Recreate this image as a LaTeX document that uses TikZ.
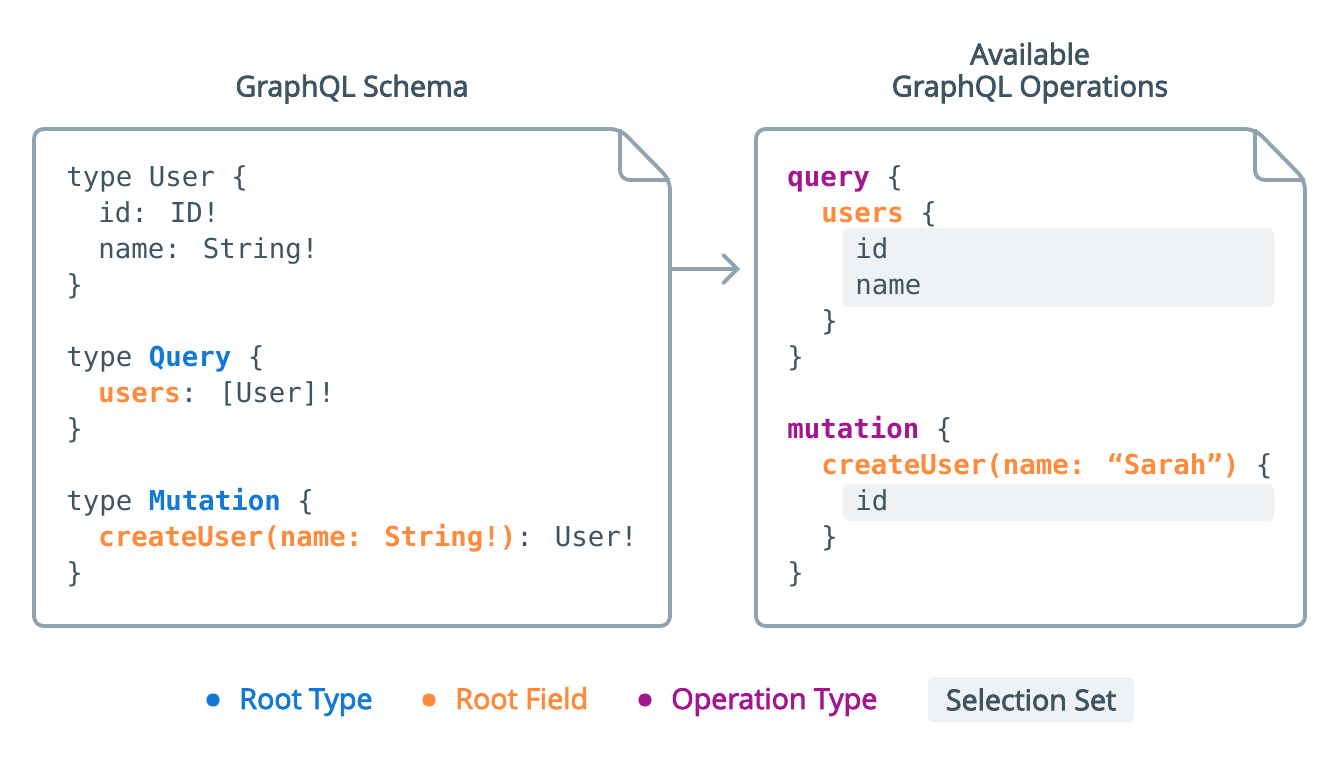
\documentclass[tikz,border=0pt]{standalone}
\usepackage{fontspec}
\setmainfont{Open Sans}
\newfontfamily\codefont{DejaVu Sans Mono}
\newfontfamily\labelfont{Open Sans}[FakeBold=3]
\usetikzlibrary{positioning}
\usetikzlibrary{arrows.meta}
\definecolor{docline}{HTML}{8FA4B0}
\definecolor{codetext}{HTML}{3E5463}
\definecolor{rootblue}{HTML}{1379D7}
\definecolor{rootorange}{HTML}{FF8A3B}
\definecolor{opviolet}{HTML}{A5158F}
\definecolor{selgray}{HTML}{EEF2F5}
\newcommand{\rtype}[1]{{\bfseries\color{rootblue}#1}}
\newcommand{\rfield}[1]{{\bfseries\color{rootorange}#1}}
\newcommand{\optype}[1]{{\bfseries\color{opviolet}#1}}
\tikzset{
        % Document outlines
        doc_outline/.style={draw=docline, line width=2.2pt, rounded corners=5.5pt, line join=round},
        % Lines of code
        code_line/.style={anchor=base west, inner sep=0pt, text=codetext, font=\codefont\fontsize{15.6}{19}\selectfont},
        % Selection sets
        sel_box/.style={fill=selgray, rounded corners=3.5pt},
        % Titles above the documents
        doc_title/.style={align=center, text=codetext, font=\labelfont\fontsize{16.3}{18.2}\selectfont},
        % Legend
        legend_dot/.style={circle, inner sep=0pt, minimum size=7.5pt},
        legend_text/.style={anchor=base west, inner sep=0pt, font=\labelfont\fontsize{16.3}{18}\selectfont}
}
\begin{document}
\begin{tikzpicture}[x=0.02cm, y=-0.02cm]
            \useasboundingbox (0,0) rectangle (1340,764);
            % titles
            \node[doc_title] (schema_title) at (352,89) {GraphQL Schema};
            \node[doc_title] (ops_title) at (1030,73) {Available\\GraphQL Operations};
            % schema document
            \draw[doc_outline] (620,129) -- (34,129) -- (34,626) -- (670,626) -- (670,180) -- cycle;
            \draw[doc_outline] (620,129) -- (620,180) -- (670,180);
            % operations document
            \draw[doc_outline] (1255,129) -- (756,129) -- (756,626) -- (1305,626) -- (1305,180) -- cycle;
            \draw[doc_outline] (1255,129) -- (1255,180) -- (1305,180);
            % selection sets
            \fill[sel_box] (843,228) rectangle (1274,307);
            \fill[sel_box] (843,484) rectangle (1274,521);
            % schema code
            \node[code_line] (s_user) at (66,186) {type User \{};
            \node[code_line] (s_id) at (98,222) {id: ID!};
            \node[code_line] (s_name) at (98,258) {name: String!};
            \node[code_line] (s_user_end) at (66,294) {\}};
            \node[code_line] (s_query) at (66,366) {type \rtype{Query} \{};
            \node[code_line] (s_users) at (98,402) {\rfield{users}: [User]!};
            \node[code_line] (s_query_end) at (66,438) {\}};
            \node[code_line] (s_mutation) at (66,510) {type \rtype{Mutation} \{};
            \node[code_line] (s_create) at (98,546) {\rfield{createUser(name: String!)}: User!};
            \node[code_line] (s_mutation_end) at (66,582) {\}};
            % operations code
            \node[code_line] (o_query) at (787,186) {\optype{query} \{};
            \node[code_line] (o_users) at (821,222) {\rfield{users} \{};
            \node[code_line] (o_id) at (855,258) {id};
            \node[code_line] (o_name) at (855,294) {name};
            \node[code_line] (o_users_end) at (821,330) {\}};
            \node[code_line] (o_query_end) at (787,366) {\}};
            \node[code_line] (o_mutation) at (787,438) {\optype{mutation} \{};
            \node[code_line] (o_create) at (821,474) {\rfield{createUser(name: “Sarah”)} \{};
            \node[code_line] (o_new_id) at (855,510) {id};
            \node[code_line] (o_create_end) at (821,546) {\}};
            \node[code_line] (o_mutation_end) at (787,582) {\}};
            % schema -> operations
            \coordinate (schema_out) at (670,269);
            \coordinate (ops_in) at (740,269);
            \draw[docline, line width=2.2pt, -{Straight Barb[length=8pt, width=16pt, line cap=round]}] (schema_out) -- (ops_in);
            % legend
            \node[legend_dot, fill=rootblue] (dot_type) at (213,700) {};
            \node[legend_text, text=rootblue] (key_type) at (239,709) {Root Type};
            \node[legend_dot, fill=rootorange] (dot_field) at (429,700) {};
            \node[legend_text, text=rootorange] (key_field) at (455,709) {Root Field};
            \node[legend_dot, fill=opviolet] (dot_op) at (645,700) {};
            \node[legend_text, text=opviolet] (key_op) at (671,709) {Operation Type};
            \node[sel_box, minimum width=206*0.02cm, minimum height=45*0.02cm, text=codetext, font=\labelfont\fontsize{16.3}{18}\selectfont] (key_sel) at (1031,699.5) {Selection Set};
\end{tikzpicture}
\end{document}
